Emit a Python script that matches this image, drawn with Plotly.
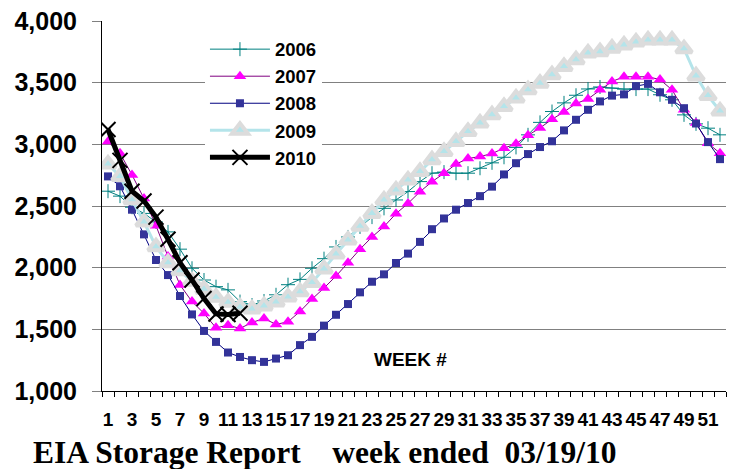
import plotly.graph_objects as go

weeks = [1, 2, 3, 4, 5, 6, 7, 8, 9, 10, 11, 12, 13, 14, 15, 16, 17, 18, 19, 20,
         21, 22, 23, 24, 25, 26, 27, 28, 29, 30, 31, 32, 33, 34, 35, 36, 37, 38, 39, 40,
         41, 42, 43, 44, 45, 46, 47, 48, 49, 50, 51, 52]

s2006 = [2620, 2580, 2490, 2440, 2370, 2290, 2150, 1995, 1900, 1846, 1820, 1725, 1697,
         1730, 1780, 1862, 1905, 1995, 2073, 2168, 2249, 2330, 2410, 2481, 2549, 2617,
         2698, 2766, 2775, 2766, 2766, 2806, 2850, 2895, 2975, 3077, 3178, 3266, 3336,
         3398, 3449, 3465, 3456, 3448, 3448, 3448, 3402, 3361, 3239, 3166, 3131, 3077]

s2007 = [3022, 2928, 2752, 2560, 2340, 2090, 1860, 1725, 1629, 1512, 1534, 1507, 1556,
         1588, 1540, 1561, 1645, 1745, 1835, 1932, 2040, 2150, 2249, 2333, 2438, 2521,
         2616, 2697, 2765, 2840, 2885, 2901, 2925, 2969, 3005, 3073, 3133, 3203, 3263,
         3331, 3368, 3442, 3510, 3548, 3548, 3548, 3525, 3442, 3280, 3172, 3009, 2928]

s2008 = [2740, 2660, 2470, 2270, 2062, 1940, 1770, 1621, 1487, 1398, 1312, 1276, 1250,
         1236, 1263, 1290, 1372, 1439, 1530, 1618, 1705, 1800, 1886, 1946, 2038, 2114,
         2209, 2312, 2399, 2470, 2524, 2580, 2657, 2756, 2847, 2921, 2978, 3025, 3113,
         3199, 3280, 3348, 3395, 3405, 3472, 3490, 3422, 3361, 3293, 3169, 3018, 2880]

s2009 = [2840, 2740, 2550, 2370, 2170, 2040, 1975, 1890, 1826, 1760, 1720, 1680, 1665,
         1690, 1722, 1762, 1805, 1880, 1990, 2110, 2225, 2335, 2440, 2549, 2630, 2711,
         2779, 2874, 2941, 3022, 3104, 3172, 3239, 3307, 3375, 3442, 3496, 3564, 3631,
         3686, 3740, 3750, 3780, 3805, 3830, 3845, 3845, 3845, 3775, 3555, 3395, 3270]

s2010 = [3120, 2870, 2620, 2540, 2410, 2230, 2040, 1900, 1750, 1625, 1620, 1630]

x_tick_vals = [1, 3, 5, 7, 9, 11, 13, 15, 17, 19, 21, 23, 25, 27, 29, 31, 33, 35, 37,
               39, 41, 43, 45, 47, 49, 51]
x_tick_text = [str(v) for v in x_tick_vals]
y_tick_vals = [1000, 1500, 2000, 2500, 3000, 3500, 4000]

SANS = "Arial, Liberation Sans, sans-serif"
SERIF = "Times New Roman, Liberation Serif, serif"

fig = go.Figure()
fig.add_trace(go.Scatter(
    x=weeks, y=s2006, name="2006", mode="lines+markers",
    line=dict(color="#008080", width=1),
    marker=dict(symbol="cross-thin", size=10, color="#008080",
                line=dict(color="#008080", width=1))))
fig.add_trace(go.Scatter(
    x=weeks, y=s2007, name="2007", mode="lines+markers",
    line=dict(color="#800080", width=1),
    marker=dict(symbol="triangle-up", size=11, color="#FF00FF",
                line=dict(width=0))))
fig.add_trace(go.Scatter(
    x=weeks, y=s2008, name="2008", mode="lines+markers",
    line=dict(color="#000080", width=1),
    marker=dict(symbol="square", size=8, color="#333399",
                line=dict(width=0))))
fig.add_trace(go.Scatter(
    x=weeks, y=s2009, name="2009", mode="lines+markers",
    line=dict(color="#B4E4EA", width=3),
    marker=dict(symbol="triangle-up", size=14, color="#B4E4EA",
                line=dict(color="#DCDCDC", width=4))))
fig.add_trace(go.Scatter(
    x=weeks[:len(s2010)], y=s2010, name="2010", mode="lines+markers",
    line=dict(color="#000000", width=5),
    marker=dict(symbol="x-thin", size=15, color="#000000",
                line=dict(color="#000000", width=2))))

fig.update_layout(
    width=734, height=469,
    margin=dict(l=102, r=8, t=21, b=78, autoexpand=False),
    paper_bgcolor="white", plot_bgcolor="white",
    font=dict(family=SANS, color="black"),
    showlegend=True,
    legend=dict(x=0.165, y=0.974, xanchor="left", yanchor="top",
                bgcolor="white", borderwidth=0, itemwidth=60,
                font=dict(family=SANS, size=18.5, color="black", weight="bold"),
                tracegroupgap=0),
    xaxis=dict(range=[0.5, 52.5], tickmode="array", tickvals=x_tick_vals,
               ticktext=x_tick_text, ticks="", showgrid=False, zeroline=False,
               showline=True, linecolor="black", linewidth=1,
               ticklabelstandoff=11, automargin=False,
               tickfont=dict(family=SANS, size=19, color="black", weight="bold"),
               minor=dict(tickmode="linear", tick0=0.5, dtick=1, ticks="outside",
                          ticklen=5, tickcolor="black", tickwidth=1, showgrid=False)),
    yaxis=dict(range=[1000, 4000], tickmode="array", tickvals=y_tick_vals,
               tickformat=",", showgrid=True, gridcolor="#808080", gridwidth=1,
               zeroline=False, showline=True, linecolor="black", linewidth=1,
               ticks="outside", ticklen=9, tickcolor="#808080",
               ticklabelstandoff=10, automargin=False,
               tickfont=dict(family=SANS, size=25, color="black", weight="bold")),
    annotations=[
        dict(text="WEEK #", xref="paper", yref="paper", x=0.433, y=0.084,
             xanchor="left", yanchor="middle", showarrow=False,
             font=dict(family=SANS, size=19, color="black", weight="bold")),
        dict(text="EIA Storage Report\u00a0\u00a0\u00a0\u00a0week ended\u00a0\u00a003/19/10",
             xref="paper", yref="paper", x=-0.114, y=-0.165,
             xanchor="left", yanchor="middle", showarrow=False,
             font=dict(family=SERIF, size=31.5, color="black", weight="bold")),
    ],
)

fig.write_html("out.html", config={"displayModeBar": False},
               post_script="document.body.style.margin='0px';document.body.style.overflow='hidden';")
